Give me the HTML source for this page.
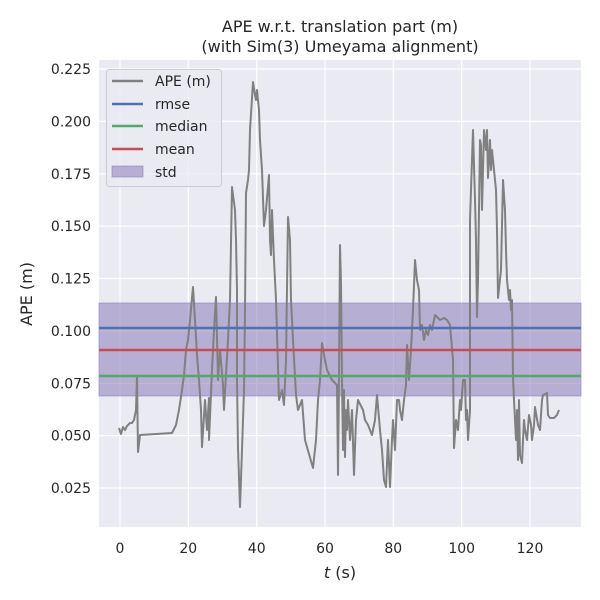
<!DOCTYPE html>
<html><head><meta charset="utf-8"><style>body{margin:0;background:#fff}svg{display:block}text{font-family:"DejaVu Sans","Liberation Sans",sans-serif;fill:#262626}</style></head><body>
<svg width="600" height="600" viewBox="0 0 600 600">
<rect x="99" y="60" width="482" height="467" fill="#eaeaf2"/>
<g stroke="#fff" stroke-width="1.2">
<line x1="120" y1="60" x2="120" y2="527"/><line x1="188.3" y1="60" x2="188.3" y2="527"/><line x1="256.7" y1="60" x2="256.7" y2="527"/><line x1="325" y1="60" x2="325" y2="527"/><line x1="393.3" y1="60" x2="393.3" y2="527"/><line x1="461.7" y1="60" x2="461.7" y2="527"/><line x1="530" y1="60" x2="530" y2="527"/>
<line x1="99" y1="69" x2="581" y2="69"/><line x1="99" y1="121.4" x2="581" y2="121.4"/><line x1="99" y1="173.8" x2="581" y2="173.8"/><line x1="99" y1="226.1" x2="581" y2="226.1"/><line x1="99" y1="278.5" x2="581" y2="278.5"/><line x1="99" y1="330.9" x2="581" y2="330.9"/><line x1="99" y1="383.3" x2="581" y2="383.3"/><line x1="99" y1="435.6" x2="581" y2="435.6"/><line x1="99" y1="488" x2="581" y2="488"/>
</g>
<rect x="99" y="303" width="482" height="93" fill="#8172b3" fill-opacity="0.5" stroke="#8172b3" stroke-opacity="0.5"/>
<polyline fill="none" stroke="#808080" stroke-width="2" stroke-linejoin="round" points="119,428 121,434 123,427 125,430 127,426 130,423 132,423 134,420 136,410 137,377 138,452 140,435 172,433 176,425 179,410 182,390 184,375 186,350 188,340 190,320 193,287 195,320 197,355 199,380 201,410 202,447 205,400 207,430 209,398 209,440 212,370 214,330 216,297 218,380 220,350 223,385 224,410 228,340 230,300 232,187 233,195 235,210 236,240 237,290 237,380 238,448 240,507 242,450 244,390 245,310 246,193 248,180 249,170 250,130 253,82 255,95 256,100 257,90 259,110 260,140 262,170 264,226 266,210 269,175 270,240 271,255 272,210 274,260 276,300 279,400 282,390 284,405 286,360 288,217 290,240 291,300 293,340 296,395 298,410 302,400 305,440 313,468 316,440 318,400 320,380 322,343 325,360 327,370 332,380 337,385 338,475 339,375 340,245 341,285 342,380 343,450 344,390 345,457 346,410 347,430 348,400 350,440 352,410 354,475 356,420 358,400 363,410 365,420 368,425 372,435 375,420 377,395 380,430 382,450 384,480 386,487 388,440 390,487 392,440 393,420 395,450 397,400 399,400 400,410 402,420 404,400 406,385 407,345 409,380 411,350 413,310 415,260 417,280 419,290 420,330 422,325 424,340 426,330 428,335 430,325 432,330 434,320 435,315 440,320 444,318 447,320 450,325 453,360 454,448 456,420 458,430 460,400 461,410 463,380 465,380 466,420 467,410 468,440 470,410 470,220 472,160 473,130 475,200 476,240 477,317 478,280 480,140 481,145 482,210 484,130 485,140 486,150 487,130 488,178 489,160 490,140 491,170 492,150 494,170 496,190 497,230 498,298 501,270 503,180 505,210 506,250 507,280 509,300 510,290 511,310 512,300 513,377 514,400 515,420 516,440 517,410 518,460 519,400 520,455 522,463 523,440 524,420 525,430 527,440 529,415 531,425 532,440 534,425 535,407 538,425 540,430 542,400 543,395 547,393 548,415 550,418 554,418 557,415 559,410"/>
<line x1="99" y1="328" x2="581" y2="328" stroke="#4c72b0" stroke-width="2.5"/>
<line x1="99" y1="350" x2="581" y2="350" stroke="#c44e52" stroke-width="2.5"/>
<line x1="99" y1="376" x2="581" y2="376" stroke="#55a868" stroke-width="2.5"/>
<g font-size="14" text-anchor="middle">
<text x="120" y="553">0</text><text x="188.3" y="553">20</text><text x="256.7" y="553">40</text><text x="325" y="553">60</text><text x="393.3" y="553">80</text><text x="461.7" y="553">100</text><text x="530" y="553">120</text>
</g>
<g font-size="14" text-anchor="end">
<text x="91" y="74">0.225</text><text x="91" y="126.4">0.200</text><text x="91" y="178.8">0.175</text><text x="91" y="231.1">0.150</text><text x="91" y="283.5">0.125</text><text x="91" y="335.9">0.100</text><text x="91" y="388.3">0.075</text><text x="91" y="440.6">0.050</text><text x="91" y="493">0.025</text>
</g>
<text x="340" y="578" font-size="16" text-anchor="middle"><tspan font-style="italic">t</tspan> (s)</text>
<text transform="translate(32,294) rotate(-90)" font-size="16" text-anchor="middle">APE (m)</text>
<text x="340" y="32" font-size="16" text-anchor="middle">APE w.r.t. translation part (m)</text>
<text x="340" y="52" font-size="16" text-anchor="middle">(with Sim(3) Umeyama alignment)</text>
<rect x="106.5" y="69.5" width="115" height="117" rx="3" fill="#eaeaf2" fill-opacity="0.8" stroke="#cccccc"/>
<line x1="112" y1="81" x2="143" y2="81" stroke="#808080" stroke-width="2.5"/>
<line x1="112" y1="104" x2="143" y2="104" stroke="#4c72b0" stroke-width="2.5"/>
<line x1="112" y1="126" x2="143" y2="126" stroke="#55a868" stroke-width="2.5"/>
<line x1="112" y1="149" x2="143" y2="149" stroke="#c44e52" stroke-width="2.5"/>
<rect x="112" y="166" width="31" height="11" fill="#8172b3" fill-opacity="0.5" stroke="#8172b3" stroke-opacity="0.5"/>
<g font-size="14"><text x="155" y="86">APE (m)</text><text x="155" y="109">rmse</text><text x="155" y="131">median</text><text x="155" y="154">mean</text><text x="155" y="177">std</text></g>
</svg>
</body></html>
